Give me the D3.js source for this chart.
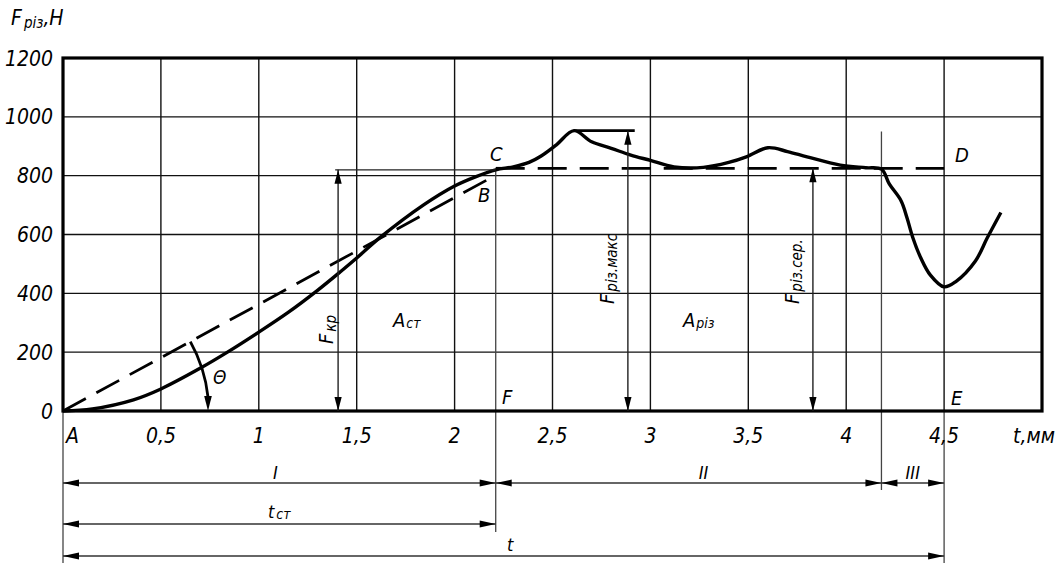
<!DOCTYPE html>
<html><head><meta charset="utf-8">
<script src="https://cdn.jsdelivr.net/npm/d3@7/dist/d3.min.js"></script>
<style>
html,body{margin:0;padding:0;background:#fff;}
text{font-family:"Liberation Sans Narrow","DejaVu Sans Condensed","Liberation Sans",sans-serif;font-style:italic;fill:#000;}
</style></head>
<body><svg id="c" width="1059" height="563"></svg>
<script>
// ---- data ----
const xTicks = [0.5, 1, 1.5, 2, 2.5, 3, 3.5, 4, 4.5];
const xTickLabels = ["0,5", "1", "1,5", "2", "2,5", "3", "3,5", "4", "4,5"];
const yTicks = [0, 200, 400, 600, 800, 1000, 1200];
const yTickLabels = ["0", "200", "400", "600", "800", "1000", "1200"];
const curveT = [0, 0.15, 0.36, 0.5, 0.7, 0.84, 1.0, 1.15, 1.3, 1.42, 1.5, 1.62, 1.84, 2.0, 2.11, 2.21, 2.3, 2.38, 2.44, 2.52, 2.61,
  2.7, 2.8, 2.9, 3.0, 3.12, 3.27, 3.4, 3.49, 3.6, 3.7, 3.8, 3.97, 4.1, 4.18, 4.22, 4.28, 4.31, 4.34, 4.38, 4.43,
  4.5, 4.56, 4.66, 4.72, 4.79];
const curveF = [0, 7, 38, 75, 145, 200, 268, 335, 410, 475, 520, 590, 700, 765, 797, 820, 830, 845, 866, 905, 953,
  915, 893, 870, 852, 830, 828, 845, 864, 895, 882, 864, 836, 827, 822, 772, 715, 658, 590, 522, 462,
  422, 440, 510, 588, 675];
const tangentT = [0, 2.17];
const tangentF = [0, 787];
const plateauT = [2.21, 4.5];
const plateauF = [825, 825];
const stageT = [0, 2.21, 4.18, 4.5];
const stageLabels = ["I", "II", "III"];
const fKrT = 1.405, fKr = 820;
const fMaxT = 2.885, fMaxPeakT = 2.61, fMax = 953;
const fSerT = 3.83, fSer = 825;

// ---- scales ----
const svg = d3.select("#c");
const x = d3.scaleLinear().domain([0, 5]).range([63, 1042]);
const y = d3.scaleLinear().domain([0, 1200]).range([411, 58]);
const X0 = x(0), Y0 = y(0), X1 = x(5), Y1 = y(1200);

function arrow(tx, ty, dx, dy, L = 14, w = 3.6) {
  const n = Math.hypot(dx, dy); dx /= n; dy /= n;
  const bx = tx - dx * L, by = ty - dy * L;
  svg.append("path").attr("d", `M${tx},${ty}L${bx - dy * w},${by + dx * w}L${bx + dy * w},${by - dx * w}Z`).attr("fill", "#000");
}
function line(x1, y1, x2, y2, sw = 1.3, col = "#000") {
  svg.append("line").attr("x1", x1).attr("y1", y1).attr("x2", x2).attr("y2", y2).attr("stroke", col).attr("stroke-width", sw);
}

// grid
xTicks.forEach(t => line(x(t), Y1, x(t), Y0, 1.4, "#111"));
yTicks.slice(1, -1).forEach(v => line(X0, y(v), X1, y(v), 1.4, "#111"));

// extension lines
line(X0, Y0, X0, 563, 1.3, "#444");
line(x(stageT[1]), y(fKr), x(stageT[1]), 532, 1.3, "#444");
line(x(stageT[2]), y(950), x(stageT[2]), 490, 1.3, "#444");
line(x(stageT[3]), Y0, x(stageT[3]), 563, 1.3, "#444");

// frame
svg.append("rect").attr("x", X0).attr("y", Y1).attr("width", X1 - X0).attr("height", Y0 - Y1)
  .attr("fill", "none").attr("stroke", "#000").attr("stroke-width", 3.2);

// axis tick labels
yTicks.forEach((v, i) => svg.append("text").attr("x", 53).attr("y", y(v)).attr("dy", "0.36em")
  .attr("text-anchor", "end").attr("font-size", 21).text(yTickLabels[i]));
xTicks.forEach((t, i) => svg.append("text").attr("x", x(t)).attr("y", 443)
  .attr("text-anchor", "middle").attr("font-size", 21).text(xTickLabels[i]));
svg.append("text").attr("x", 66).attr("y", 443).attr("font-size", 21).text("A");
svg.append("text").attr("x", 1013).attr("y", 443).attr("font-size", 21).text("t,мм");

// y axis title
const tt = svg.append("text").attr("x", 11).attr("y", 25).attr("font-size", 21);
tt.append("tspan").text("F");
tt.append("tspan").attr("font-size", 15).attr("dy", 3).attr("dx", 2).text("різ");
tt.append("tspan").attr("dy", -3).text(",Н");

// dashed lines
const ln = d3.line().x(d => x(d[0])).y(d => y(d[1]));
svg.append("path").attr("d", ln(tangentT.map((t, i) => [t, tangentF[i]])))
  .attr("fill", "none").attr("stroke", "#000").attr("stroke-width", 2.8).attr("stroke-dasharray", "26,12");
svg.append("path").attr("d", ln(plateauT.map((t, i) => [t, plateauF[i]])))
  .attr("fill", "none").attr("stroke", "#000").attr("stroke-width", 2.8).attr("stroke-dasharray", "29,13");

// main curve
const cl = d3.line().x(d => x(d[0])).y(d => y(d[1])).curve(d3.curveCatmullRom.alpha(0.5));
svg.append("path").attr("d", cl(curveT.map((t, i) => [t, curveF[i]])))
  .attr("fill", "none").attr("stroke", "#000").attr("stroke-width", 3.4).attr("stroke-linejoin", "round");

// F_kr dimension
line(x(1.39), y(fKr), x(stageT[1]), y(fKr), 1.3, "#222");
line(x(fKrT), y(fKr), x(fKrT), Y0, 1.4, "#222");
arrow(x(fKrT), y(fKr), 0, -1); arrow(x(fKrT), Y0, 0, 1);
// F_max dimension
line(x(fMaxPeakT), y(fMax), x(2.92), y(fMax), 2.6, "#000");
line(x(fMaxT), y(fMax), x(fMaxT), Y0, 1.4, "#222");
arrow(x(fMaxT), y(fMax), 0, -1); arrow(x(fMaxT), Y0, 0, 1);
// F_ser dimension
line(x(fSerT), y(fSer), x(fSerT), Y0, 1.4, "#222");
arrow(x(fSerT), y(fSer), 0, -1); arrow(x(fSerT), Y0, 0, 1);

// theta arc
const R = 145;
const ang = Math.atan2(Y0 - y(tangentF[1]), x(tangentT[1]) - X0);
const sx = X0 + R * Math.cos(ang), sy = Y0 - R * Math.sin(ang);
svg.append("path").attr("d", `M${sx},${sy}A${R},${R} 0 0 1 ${X0 + R},${Y0 - 14}`)
  .attr("fill", "none").attr("stroke", "#000").attr("stroke-width", 2.8);
arrow(X0 + R, Y0, 0, 1, 15, 3.8);
svg.append("text").attr("x", 213).attr("y", 384).attr("font-size", 19).text("Θ");

// point labels
const lab = (t, px, py) => svg.append("text").attr("x", px).attr("y", py).attr("font-size", 20).text(t);
lab("C", 490, 161); lab("B", 478, 202); lab("D", 955, 162); lab("F", 502, 404); lab("E", 951, 405);

// area labels
function sub(px, py, main, s) {
  const t = svg.append("text").attr("x", px).attr("y", py).attr("font-size", 20);
  t.append("tspan").text(main);
  t.append("tspan").attr("font-size", 14).attr("dy", 1).attr("dx", 1).text(s);
}
sub(393, 327, "A", "ст");
sub(683, 327, "A", "різ");

// rotated labels
function rsub(px, py, main, s) {
  const t = svg.append("text").attr("transform", `translate(${px},${py}) rotate(-90)`).attr("font-size", 20);
  t.append("tspan").text(main);
  t.append("tspan").attr("font-size", 15).attr("dy", 3).attr("dx", 2).text(s);
}
rsub(333, 344, "F", "кр");
rsub(614, 304, "F", "різ.макс");
rsub(799, 304, "F", "різ.сер.");

// dimension rows
const rows = [483, 524, 556];
function dim(t1, t2, yy) {
  line(x(t1), yy, x(t2), yy, 1.3, "#333");
  arrow(x(t1), yy, -1, 0, 16, 3.4); arrow(x(t2), yy, 1, 0, 16, 3.4);
}
for (let i = 0; i < 3; i++) {
  dim(stageT[i], stageT[i + 1], rows[0]);
  svg.append("text").attr("x", (x(stageT[i]) + x(stageT[i + 1])) / 2 + (i === 0 ? -4 : i === 1 ? 15 : 0))
    .attr("y", 479).attr("text-anchor", "middle").attr("font-size", 18).text(stageLabels[i]);
}
dim(stageT[0], stageT[1], rows[1]);
const tcm = svg.append("text").attr("x", 268).attr("y", 518).attr("font-size", 18);
tcm.append("tspan").text("t");
tcm.append("tspan").attr("font-size", 14).attr("dy", 1).attr("dx", 2).text("ст");
dim(stageT[0], stageT[3], rows[2]);
svg.append("text").attr("x", 507).attr("y", 551).attr("font-size", 18).text("t");
</script></body></html>
